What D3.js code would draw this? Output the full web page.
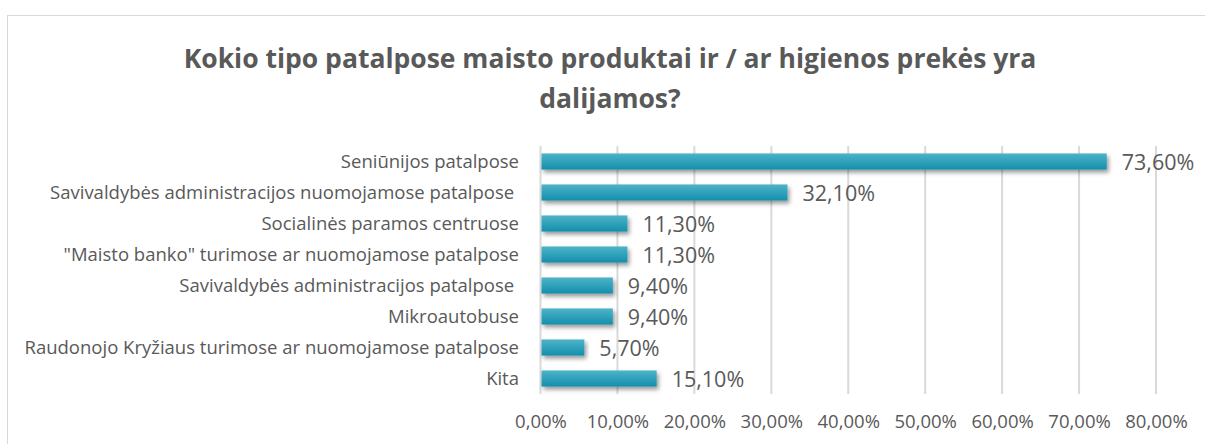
<!DOCTYPE html>
<html>
<head>
<meta charset="utf-8">
<script src="https://cdn.jsdelivr.net/npm/d3@7"></script>
<style>
  body { margin: 0; background: #fff; }
  svg { display: block; font-family: "Open Sans", "Noto Sans", sans-serif; }
  .ycat text { white-space: pre; }
</style>
</head>
<body>
<div id="root"></div>
<script>
var categories = [
  "Seniūnijos patalpose",
  "Savivaldybės administracijos nuomojamose patalpose ",
  "Socialinės paramos centruose",
  "\"Maisto banko\" turimose ar nuomojamose patalpose",
  "Savivaldybės administracijos patalpose ",
  "Mikroautobuse",
  "Raudonojo Kryžiaus turimose ar nuomojamose patalpose",
  "Kita"
]
var values = [73.6, 32.1, 11.3, 11.3, 9.4, 9.4, 5.7, 15.1]
var ticks = [0, 10, 20, 30, 40, 50, 60, 70, 80]
var titleLines = ["Kokio tipo patalpose maisto produktai ir / ar higienos prekės yra", "dalijamos?"]

window.onload = function () {
  var width = 1205, height = 444
  var plotLeft = 540.5, plotRight = 1156, plotTop = 146, plotBottom = 394
  var grey = "#595959"
  var fmt = function (d) { return d3.format(".2f")(d).replace(".", ",") + "%" }

  var svg = d3.select("#root").append("svg")
    .attr("width", width)
    .attr("height", height)

  var defs = svg.append("defs")
  var grad = defs.append("linearGradient")
    .attr("id", "barGrad")
    .attr("x1", 0).attr("y1", 0).attr("x2", 0).attr("y2", 1)
  grad.append("stop").attr("offset", "0%").attr("stop-color", "#4db3ca")
  grad.append("stop").attr("offset", "100%").attr("stop-color", "#138fab")
  var shadow = defs.append("filter").attr("id", "shadow")
    .attr("x", "-5%").attr("y", "-30%").attr("width", "115%").attr("height", "190%")
  shadow.append("feDropShadow")
    .attr("dx", 2).attr("dy", 3).attr("stdDeviation", 2)
    .attr("flood-color", "#000").attr("flood-opacity", 0.4)

  // chart frame
  svg.append("rect")
    .attr("x", 7.5).attr("y", 15.5)
    .attr("width", 1250).attr("height", 500)
    .attr("fill", "#fff").attr("stroke", "#d9d9d9")

  // title
  svg.append("text")
    .attr("text-anchor", "middle")
    .attr("fill", grey)
    .attr("font-size", 26.5)
    .attr("font-weight", "bold")
    .selectAll("tspan")
    .data(titleLines)
    .enter()
    .append("tspan")
    .attr("x", 610)
    .attr("y", function (d, i) { return 68 + i * 40 })
    .text(function (d) { return d })

  var x = d3.scaleLinear().domain([0, 80]).range([plotLeft, plotRight])
  var y = d3.scaleBand().domain(categories).range([plotTop, plotBottom]).paddingInner(0.48).paddingOuter(0.24)

  // gridlines
  svg.append("g")
    .selectAll("line")
    .data(ticks)
    .enter()
    .append("line")
    .attr("x1", function (d) { return x(d) })
    .attr("x2", function (d) { return x(d) })
    .attr("y1", plotTop)
    .attr("y2", plotBottom)
    .attr("stroke", "#d9d9d9")
    .attr("stroke-width", 2)

  // x axis
  var xAxis = svg.append("g")
    .attr("transform", "translate(0," + plotBottom + ")")
    .call(d3.axisBottom(x).tickValues(ticks).tickSize(0).tickPadding(21).tickFormat(fmt))
  xAxis.select(".domain").remove()
  xAxis.selectAll("text")
    .attr("fill", grey)
    .attr("font-size", 18.5)
    .attr("font-family", "Open Sans, sans-serif")

  // y axis
  var yAxis = svg.append("g")
    .attr("class", "ycat")
    .attr("transform", "translate(" + (plotLeft - 21.5) + ",1)")
    .call(d3.axisLeft(y).tickSize(0).tickPadding(0))
  yAxis.select(".domain").remove()
  yAxis.selectAll("text")
    .attr("fill", grey)
    .attr("font-size", 18.5)
    .attr("font-family", "Open Sans, sans-serif")

  // bars
  svg.append("g")
    .selectAll("rect")
    .data(values)
    .enter()
    .append("rect")
    .attr("x", x(0) + 1)
    .attr("y", function (d, i) { return y(categories[i]) })
    .attr("width", function (d) { return x(d) - x(0) - 1 })
    .attr("height", y.bandwidth())
    .attr("fill", "url(#barGrad)")
    .attr("filter", "url(#shadow)")

  // value labels
  svg.append("g")
    .selectAll("text")
    .data(values)
    .enter()
    .append("text")
    .attr("x", function (d) { return x(d) + 15 })
    .attr("y", function (d, i) { return y(categories[i]) + y.bandwidth() / 2 + 1 })
    .attr("dy", "0.35em")
    .attr("fill", grey)
    .attr("font-size", 21.5)
    .text(fmt)
}
</script>
</body>
</html>
